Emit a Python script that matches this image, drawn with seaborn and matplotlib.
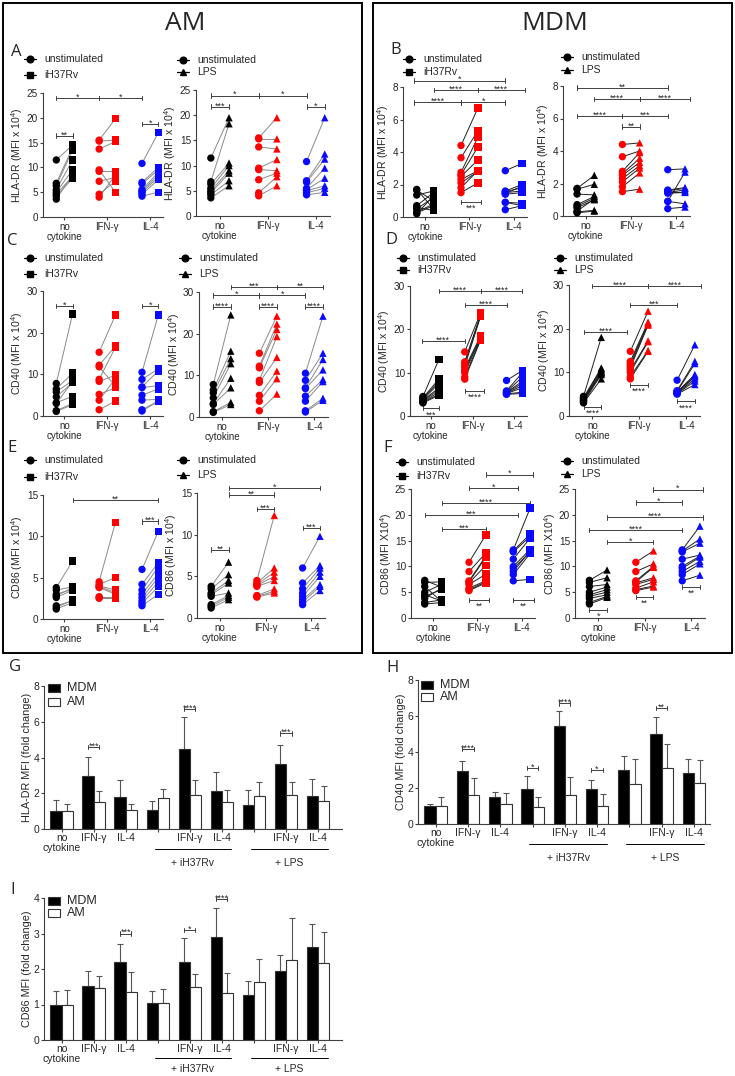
import numpy as np
import pandas as pd
import matplotlib
matplotlib.use('Agg')
import matplotlib.pyplot as plt
from matplotlib.lines import Line2D
from matplotlib.patches import Rectangle
import seaborn as sns

sns.set_style('ticks')
plt.rcParams['font.family'] = ['Liberation Sans', 'DejaVu Sans']
plt.rcParams['mathtext.default'] = 'regular'

# ---------------- data: paired donor values (MFI x 10^4) ----------------
# each list holds [no cytokine, IFN-g, IL-4]
cytokines = ['no\ncytokine', 'IFN-γ', 'IL-4']

hla_am_unstim = [[11.5, 6.8, 6.3, 5.5, 5.0, 4.6, 4.2, 3.6],
                 [15.5, 15.3, 13.7, 9.5, 9.2, 7.2, 4.6, 4.0],
                 [10.8, 7.0, 6.7, 5.5, 5.2, 5.0, 4.6, 4.2]]
hla_am_h37 = [[14.5, 14.0, 13.5, 11.5, 9.5, 8.2, 7.8, 8.5],
              [19.8, 15.5, 15.2, 5.0, 9.2, 8.0, 7.2, 8.5],
              [17.0, 10.0, 9.5, 9.0, 8.5, 8.0, 7.5, 5.0]]
hla_am_lps = [[19.5, 18.3, 10.5, 10.0, 9.0, 8.5, 7.0, 6.0],
              [19.5, 15.3, 13.3, 11.2, 9.0, 8.5, 7.8, 6.0],
              [19.5, 12.3, 11.3, 9.5, 7.5, 6.0, 5.5, 4.7]]

hla_mdm_unstim = [[1.7, 1.65, 1.35, 0.7, 0.6, 0.5, 0.3, 0.25, 0.2],
                  [4.4, 3.65, 2.75, 2.6, 2.5, 2.3, 2.1, 1.8, 1.5],
                  [2.85, 1.6, 1.55, 1.5, 1.45, 0.9, 0.9, 0.45, 1.4]]
hla_mdm_h37 = [[0.5, 1.0, 1.6, 1.5, 0.4, 1.2, 0.8, 0.7, 1.3],
               [6.7, 5.3, 4.9, 4.3, 3.5, 2.85, 2.8, 2.85, 2.1],
               [3.3, 2.0, 1.8, 1.6, 1.9, 0.85, 0.7, 0.7, 1.5]]
hla_mdm_lps = [[2.5, 1.95, 1.3, 1.2, 1.1, 1.0, 1.05, 0.35, 0.3],
               [4.5, 4.0, 3.9, 3.55, 3.3, 3.1, 2.95, 2.65, 1.65],
               [2.9, 1.75, 1.7, 1.5, 1.6, 2.7, 0.75, 0.55, 1.45]]

cd40_am_unstim = [[7.8, 6.5, 5.8, 4.6, 3.2, 3.0, 1.3, 1.1],
                  [15.3, 12.2, 11.8, 8.8, 8.3, 5.2, 3.8, 1.5],
                  [10.5, 8.8, 7.0, 6.8, 5.0, 3.8, 1.5, 1.2]]
cd40_am_h37 = [[24.5, 10.3, 8.5, 8.0, 4.7, 8.3, 3.0, 2.7],
               [24.2, 16.8, 7.2, 16.5, 9.8, 6.8, 9.0, 3.6],
               [24.2, 11.3, 10.8, 7.3, 6.5, 4.0, 3.6, 3.5]]
cd40_am_lps = [[24.5, 15.8, 14.0, 12.8, 9.3, 7.0, 3.5, 3.0],
               [24.2, 22.3, 21.0, 19.3, 14.3, 11.0, 9.2, 5.5],
               [24.2, 15.3, 13.8, 11.3, 9.0, 8.5, 4.5, 4.0]]

cd40_mdm_unstim = [[4.5, 4.2, 4.0, 3.8, 3.6, 3.5, 3.3, 3.2, 3.0],
                   [14.8, 12.5, 12.0, 11.5, 11.0, 10.5, 10.0, 9.0, 8.5],
                   [8.2, 5.8, 5.6, 5.5, 5.4, 5.3, 5.2, 5.1, 5.0]]
cd40_mdm_h37 = [[13.0, 8.5, 8.0, 7.5, 6.5, 6.0, 5.5, 5.0, 4.8],
                [23.8, 23.5, 23.2, 23.0, 18.5, 18.2, 18.0, 17.8, 17.5],
                [10.5, 10.0, 9.0, 8.0, 7.5, 7.0, 6.5, 5.5, 5.2]]
cd40_mdm_lps = [[18.0, 11.0, 10.8, 10.5, 10.2, 10.0, 9.8, 9.5, 8.5],
                [24.0, 21.5, 21.2, 21.0, 20.8, 17.2, 17.0, 15.0, 14.8],
                [16.3, 12.5, 12.0, 9.5, 9.2, 9.0, 8.5, 8.0, 7.2]]

cd86_am_unstim = [[3.8, 3.5, 3.0, 2.8, 2.6, 1.6, 1.4, 1.2],
                  [4.5, 4.2, 4.0, 3.9, 3.8, 2.7, 2.6, 2.5],
                  [6.0, 4.2, 3.5, 3.0, 2.6, 2.2, 1.9, 1.6]]
cd86_am_h37 = [[7.0, 3.9, 3.6, 3.8, 3.5, 2.2, 2.3, 2.0],
               [11.7, 5.0, 3.5, 3.2, 3.0, 2.7, 2.6, 2.5],
               [10.6, 6.8, 6.3, 5.5, 5.0, 4.5, 3.9, 3.0]]
cd86_am_lps = [[6.7, 5.2, 4.5, 4.2, 3.0, 2.7, 2.5, 2.2],
               [12.3, 6.0, 5.5, 5.0, 4.5, 3.5, 3.2, 3.0],
               [9.8, 6.3, 6.0, 5.5, 5.0, 4.0, 3.8, 3.3]]

cd86_mdm_unstim = [[7.3, 6.9, 6.1, 5.0, 4.5, 4.2, 3.8, 3.0, 2.7],
                   [10.8, 9.0, 7.2, 7.0, 6.8, 6.5, 5.8, 5.5, 5.3],
                   [13.2, 13.0, 12.8, 11.4, 10.0, 9.6, 9.0, 8.4, 7.2]]
cd86_mdm_h37 = [[6.0, 7.0, 3.2, 6.5, 3.3, 5.5, 5.8, 3.5, 3.0],
                [16.1, 12.6, 12.0, 11.8, 10.2, 8.5, 7.2, 7.0, 6.8],
                [21.3, 16.3, 15.8, 15.5, 13.3, 12.8, 13.0, 12.5, 7.5]]
cd86_mdm_lps = [[9.3, 7.8, 6.5, 6.0, 5.5, 5.0, 4.5, 4.2, 4.0],
                [13.0, 10.5, 10.0, 9.8, 7.8, 7.5, 7.0, 6.2, 6.0],
                [17.8, 15.3, 14.5, 12.2, 12.0, 11.8, 11.0, 10.5, 8.3]]

# significance brackets: (x1, x2, y, label, below)
# x: -0.19/0.19 = no cytokine unstim/stim, 0.81/1.19 = IFN-g, 1.81/2.19 = IL-4
sig_a1 = [(-0.19, 0.81, 24, '*', 0), (0.81, 1.81, 24, '*', 0),
          (-0.19, 0.19, 16.4, '**', 0), (1.81, 2.19, 18.8, '*', 0)]
sig_a2 = [(-0.19, 0.81, 23.9, '*', 0), (0.81, 1.81, 23.9, '*', 0),
          (-0.19, 0.19, 21.7, '***', 0), (1.81, 2.19, 21.7, '*', 0)]
sig_b1 = [(-0.25, 1.81, 8.4, '*', 0), (0.19, 1.19, 7.8, '****', 0),
          (1.19, 2.25, 7.8, '****', 0), (-0.25, 0.81, 7.05, '****', 0),
          (0.81, 1.81, 7.05, '*', 0), (0.81, 1.25, 0.93, '***', 1)]
sig_b2 = [(-0.19, 1.81, 7.9, '**', 0), (0.19, 1.19, 7.2, '****', 0),
          (1.19, 2.3, 7.2, '****', 0), (-0.19, 0.81, 6.15, '****', 0),
          (0.81, 1.81, 6.15, '***', 0), (0.81, 1.19, 5.5, '**', 0)]
sig_c1 = [(-0.19, 0.19, 26.4, '*', 0), (1.81, 2.19, 26.4, '*', 0)]
sig_c2 = [(0.19, 1.19, 31.2, '***', 0), (1.19, 2.19, 31.2, '**', 0),
          (-0.19, 0.81, 29.2, '*', 0), (0.81, 1.81, 29.2, '*', 0),
          (-0.19, 0.19, 26.5, '****', 0), (0.81, 1.19, 26.5, '****', 0),
          (1.81, 2.19, 26.5, '****', 0)]
sig_d1 = [(0.19, 1.19, 28.8, '****', 0), (1.19, 2.19, 28.8, '****', 0),
          (0.81, 1.81, 25.6, '****', 0), (-0.22, 0.81, 17.3, '****', 0),
          (0.81, 1.27, 5.8, '****', 1), (-0.19, 0.19, 1.8, '***', 1)]
sig_d2 = [(0.0, 1.19, 29.8, '****', 0), (1.19, 2.33, 29.8, '****', 0),
          (0.81, 1.81, 25.4, '***', 0), (-0.19, 0.75, 19.3, '****', 0),
          (0.81, 1.19, 7.1, '****', 1), (-0.19, 0.19, 2.1, '****', 1),
          (1.81, 2.19, 3.4, '****', 1)]
sig_e1 = [(0.19, 2.19, 14.4, '**', 0), (1.81, 2.19, 11.8, '***', 0)]
sig_e2 = [(0.19, 2.19, 15.6, '*', 0), (0.19, 1.19, 14.8, '**', 0),
          (0.81, 1.19, 13.1, '***', 0), (-0.19, 0.19, 8.2, '**', 0),
          (1.81, 2.19, 10.8, '***', 0)]
sig_f1 = [(1.19, 2.25, 27.8, '*', 0), (0.81, 1.92, 25.2, '*', 0),
          (0.19, 2.19, 22.3, '****', 0), (-0.19, 1.92, 20.0, '***', 0),
          (0.19, 1.19, 17.3, '***', 0), (0.81, 1.27, 3.5, '**', 1),
          (1.81, 2.27, 3.5, '**', 1)]
sig_f2 = [(1.19, 2.25, 24.9, '*', 0), (0.81, 1.81, 22.4, '*', 0),
          (0.19, 2.25, 19.5, '****', 0), (-0.19, 1.81, 17.0, '****', 0),
          (0.19, 1.19, 14.7, '*', 0), (-0.19, 0.19, 1.6, '*', 1),
          (0.81, 1.19, 4.1, '**', 1), (1.81, 2.19, 6.0, '**', 1)]

# ---------------- data: fold change bars (mean, mean+SD) ----------------
bar_groups = ['no\ncytokine', 'IFN-γ', 'IL-4', '', 'IFN-γ', 'IL-4', '', 'IFN-γ', 'IL-4']

hla_fc_mdm = [1.0, 2.95, 1.8, 1.05, 4.5, 2.1, 1.35, 3.65, 1.85]
hla_fc_mdm_top = [1.65, 4.05, 2.75, 1.55, 6.25, 3.2, 2.2, 4.68, 2.78]
hla_fc_am = [1.0, 1.5, 1.05, 1.72, 1.88, 1.5, 1.82, 1.88, 1.58]
hla_fc_am_top = [1.4, 2.15, 1.38, 2.23, 2.72, 2.18, 2.65, 2.62, 2.38]
hla_fc_sig = [(1, 4.6, '***'), (4, 6.7, '****'), (7, 5.35, '***')]

cd40_fc_mdm = [1.0, 2.95, 1.5, 1.95, 5.45, 1.93, 3.0, 5.0, 2.82]
cd40_fc_mdm_top = [1.12, 3.48, 1.8, 2.65, 6.3, 2.43, 3.78, 5.92, 3.6]
cd40_fc_am = [1.0, 1.6, 1.1, 0.95, 1.6, 1.02, 2.22, 3.1, 2.3]
cd40_fc_am_top = [1.52, 2.55, 1.75, 1.48, 2.6, 1.65, 3.6, 4.45, 3.55]
cd40_fc_sig = [(1, 4.17, '****'), (3, 3.1, '*'), (4, 6.7, '****'),
               (5, 3.0, '*'), (7, 6.45, '**')]

cd86_fc_mdm = [1.0, 1.53, 2.2, 1.04, 2.2, 2.9, 1.28, 1.93, 2.63]
cd86_fc_mdm_top = [1.38, 1.95, 2.7, 1.38, 2.87, 3.73, 1.67, 2.4, 3.28]
cd86_fc_am = [1.0, 1.47, 1.36, 1.04, 1.5, 1.31, 1.64, 2.26, 2.17]
cd86_fc_am_top = [1.4, 1.8, 1.92, 1.45, 1.86, 1.89, 2.27, 3.43, 3.03]
cd86_fc_sig = [(2, 3.0, '***'), (4, 3.1, '*'), (5, 3.98, '****')]


W, H = 735, 1076
fig = plt.figure(figsize=(W / 100, H / 100), dpi=100)
AX_COL = '#404040'
OFF = 0.19
palette = {'0': 'black', '1': '#ff0000', '2': '#0a0aff'}


def px_axes(left, top, right, bottom):
    return fig.add_axes([left / W, 1 - bottom / H, (right - left) / W, (bottom - top) / H])


def style_axes(ax, ymax, yticks, ylabel, fs_tick=7.2, fs_lab=7.6):
    ax.set_ylim(0, ymax)
    ax.set_yticks(yticks)
    for s in ['top', 'right']:
        ax.spines[s].set_visible(False)
    for s in ['left', 'bottom']:
        ax.spines[s].set_color(AX_COL)
        ax.spines[s].set_linewidth(0.8)
    ax.tick_params(axis='both', length=2.5, width=0.8, color=AX_COL,
                   labelsize=fs_tick, pad=1)
    ax.tick_params(axis='x', labelsize=7)
    ax.set_ylabel(ylabel, fontsize=fs_lab, labelpad=1)
    ax.set_xlabel('')


def bracket(ax, x1, x2, y, label, below=False, fs=6.5):
    # cap half height of ~2 px in data units
    h = 2.2 / ax.bbox.height * ax.get_ylim()[1]
    kw = dict(color=AX_COL, lw=0.7, clip_on=False)
    ax.plot([x1, x2], [y, y], **kw)
    ax.plot([x1, x1], [y - h, y + h], **kw)
    ax.plot([x2, x2], [y - h, y + h], **kw)
    if below:
        ax.annotate(label, ((x1 + x2) / 2, y), xytext=(0, -1.5), textcoords='offset points',
                    ha='center', va='top', fontsize=fs, annotation_clip=False)
    else:
        ax.annotate(label, ((x1 + x2) / 2, y), xytext=(0, -1.2), textcoords='offset points',
                    ha='center', va='baseline', fontsize=fs, annotation_clip=False)


def paired_panel(ax, unstim, stim, marker, line_col, ymax, yticks, ylabel, sigs):
    rows = []
    for ci in range(3):
        for di, (u, s) in enumerate(zip(unstim[ci], stim[ci])):
            rows.append(dict(x=ci - OFF, y=u, cyt=str(ci), kind='unstim', donor=di))
            rows.append(dict(x=ci + OFF, y=s, cyt=str(ci), kind='stim', donor=di))
    df = pd.DataFrame(rows)
    for _, g in df.groupby(['cyt', 'donor']):
        ax.plot(g['x'], g['y'], color=line_col, lw=0.7, zorder=1)
    sns.scatterplot(data=df, x='x', y='y', hue='cyt', style='kind', palette=palette,
                    markers={'unstim': 'o', 'stim': marker}, style_order=['unstim', 'stim'],
                    s=28, linewidth=0, legend=False, ax=ax, zorder=3, clip_on=False)
    ax.set_xlim(-0.5, 2.3)
    ax.set_xticks([0, 1, 2])
    ax.set_xticklabels(cytokines, linespacing=1.0)
    style_axes(ax, ymax, yticks, ylabel)
    for x1, x2, y, lab, below in sigs:
        bracket(ax, x1, x2, y, lab, below)


def pair_legend(x, y1, y2, stim_label, marker):
    for y, lab, m in [(y1, 'unstimulated', 'o'), (y2, stim_label, marker)]:
        fy = 1 - y / H
        fig.add_artist(Line2D([(x - 6) / W, (x + 6) / W], [fy, fy], color='black', lw=0.9))
        fig.add_artist(Line2D([x / W], [fy], color='black', marker=m, markersize=4.8, lw=0))
        fig.text((x + 14) / W, fy, lab, fontsize=7.5, va='center', ha='left')


def bar_panel(ax, mdm, mdm_top, am, am_top, ymax, yticks, ylabel, sigs, xr, lab_y=(-0.14, -0.235)):
    df = pd.DataFrame({'grp': [f'g{i}' for i in range(9)] * 2,
                       'val': mdm + am,
                       'cell': ['MDM'] * 9 + ['AM'] * 9})
    order = [f'g{i}' for i in range(9)]
    sns.barplot(data=df, x='grp', y='val', hue='cell', order=order, hue_order=['MDM', 'AM'],
                palette={'MDM': 'black', 'AM': 'white'}, edgecolor='#333333', linewidth=0.8,
                errorbar=None, width=0.7, legend=False, ax=ax, zorder=2)
    xs = np.arange(9)
    err_m = np.array(mdm_top) - np.array(mdm)
    err_a = np.array(am_top) - np.array(am)
    ax.errorbar(xs - 0.175, mdm, yerr=[np.zeros(9), err_m], fmt='none', ecolor='#555555',
                elinewidth=0.8, capsize=2.5, capthick=0.8, zorder=1)
    ax.errorbar(xs + 0.175, am, yerr=[np.zeros(9), err_a], fmt='none', ecolor='#555555',
                elinewidth=0.8, capsize=2.5, capthick=0.8, zorder=1)
    ax.set_xlim(-0.55, xr)
    ax.set_xticks(xs)
    ax.set_xticklabels(bar_groups, linespacing=1.0)
    style_axes(ax, ymax, yticks, ylabel, fs_tick=7.5, fs_lab=7.8)
    ax.tick_params(axis='x', length=2, labelsize=7.5)
    for g, y, lab in sigs:
        bracket(ax, g - 0.175, g + 0.175, y, lab, fs=6.5)
    tr = ax.get_xaxis_transform()
    for x1, x2, lab in [(2.9, 5.3, '+ iH37Rv'), (5.9, 8.3, '+ LPS')]:
        ax.plot([x1, x2], [lab_y[0]] * 2, color='black', lw=0.7, transform=tr, clip_on=False)
        ax.text((x1 + x2) / 2, lab_y[1], lab, transform=tr, ha='center', va='center', fontsize=7.5)


def bar_legend(x, y1, y2):
    for y, lab, fc in [(y1, 'MDM', 'black'), (y2, 'AM', 'white')]:
        fig.add_artist(Rectangle((x / W, 1 - (y + 4) / H), 12 / W, 8 / H,
                                 facecolor=fc, edgecolor='#333333', lw=0.8))
        fig.text((x + 19) / W, 1 - y / H, lab, fontsize=9, va='center', ha='left')


# ---------------- frames and titles ----------------
fig.add_artist(Rectangle((3 / W, 1 - 653 / H), 359 / W, 650 / H, fill=False,
                         edgecolor='black', lw=1.4))
fig.add_artist(Rectangle((373 / W, 1 - 653 / H), 359 / W, 650 / H, fill=False,
                         edgecolor='black', lw=1.4))
fig.text(185 / W, 1 - 24 / H, 'AM', fontsize=19, ha='center', va='center', family='Open Sans')
fig.text(555 / W, 1 - 24 / H, 'MDM', fontsize=19, ha='center', va='center', family='Open Sans')

for lab, x, y in [('A', 16, 52), ('B', 396, 50), ('C', 12, 241), ('D', 391, 240),
                  ('E', 12, 448), ('F', 388, 448), ('G', 15, 667), ('H', 393, 668),
                  ('I', 13, 890)]:
    fig.text(x / W, 1 - y / H, lab, fontsize=12, ha='center', va='center', family='Open Sans')

# ---------------- paired panels ----------------
HLA = 'HLA-DR (MFI x 10$^4$)'
CD40 = 'CD40 (MFI x 10$^4$)'
CD86 = 'CD86 (MFI x 10$^4$)'
AM_LINE, MDM_LINE = '#8a8a8a', '#202020'

paired_panel(px_axes(43, 93, 163, 217), hla_am_unstim, hla_am_h37, 's', AM_LINE,
             25, [0, 5, 10, 15, 20, 25], HLA, sig_a1)
paired_panel(px_axes(196, 90, 330, 216), hla_am_unstim, hla_am_lps, '^', AM_LINE,
             25, [0, 5, 10, 15, 20, 25], HLA, sig_a2)
paired_panel(px_axes(403, 87, 527, 217), hla_mdm_unstim, hla_mdm_h37, 's', MDM_LINE,
             8, [0, 2, 4, 6, 8], HLA, sig_b1)
paired_panel(px_axes(563, 86, 690, 216), hla_mdm_unstim, hla_mdm_lps, '^', MDM_LINE,
             8, [0, 2, 4, 6, 8], HLA, sig_b2)

paired_panel(px_axes(43, 291, 163, 416), cd40_am_unstim, cd40_am_h37, 's', AM_LINE,
             30, [0, 10, 20, 30], CD40, sig_c1)
paired_panel(px_axes(199, 292, 328, 417), cd40_am_unstim, cd40_am_lps, '^', AM_LINE,
             30, [0, 10, 20, 30], CD40, sig_c2)
paired_panel(px_axes(410, 286, 527, 416), cd40_mdm_unstim, cd40_mdm_h37, 's', MDM_LINE,
             30, [0, 10, 20, 30], CD40, sig_d1)
paired_panel(px_axes(569, 285, 700, 416), cd40_mdm_unstim, cd40_mdm_lps, '^', MDM_LINE,
             30, [0, 10, 20, 30], CD40, sig_d2)

paired_panel(px_axes(43, 495, 163, 619), cd86_am_unstim, cd86_am_h37, 's', AM_LINE,
             15, [0, 5, 10, 15], CD86, sig_e1)
paired_panel(px_axes(197, 493, 325, 618), cd86_am_unstim, cd86_am_lps, '^', AM_LINE,
             15, [0, 5, 10, 15], CD86, sig_e2)
paired_panel(px_axes(411, 489, 535, 618), cd86_mdm_unstim, cd86_mdm_h37, 's', MDM_LINE,
             25, [0, 5, 10, 15, 20, 25], 'CD86 (MFI X10$^4$)', sig_f1)
paired_panel(px_axes(575, 489, 705, 618), cd86_mdm_unstim, cd86_mdm_lps, '^', MDM_LINE,
             25, [0, 5, 10, 15, 20, 25], 'CD86 (MFI X10$^4$)', sig_f2)

pair_legend(30, 59, 75, 'iH37Rv', 's')
pair_legend(183, 60, 72, 'LPS', '^')
pair_legend(409, 59, 72, 'iH37Rv', 's')
pair_legend(567, 57, 70, 'LPS', '^')
pair_legend(30, 258, 274, 'iH37Rv', 's')
pair_legend(185, 258, 274, 'LPS', '^')
pair_legend(403, 258, 270, 'iH37Rv', 's')
pair_legend(560, 258, 270, 'LPS', '^')
pair_legend(30, 460, 477, 'iH37Rv', 's')
pair_legend(183, 460, 475, 'LPS', '^')
pair_legend(402, 462, 476, 'iH37Rv', 's')
pair_legend(567, 461, 474, 'LPS', '^')

# ---------------- fold change bar panels ----------------
bar_panel(px_axes(44, 686, 342, 829), hla_fc_mdm, hla_fc_mdm_top, hla_fc_am, hla_fc_am_top,
          8, [0, 2, 4, 6, 8], 'HLA-DR MFI (fold change)', hla_fc_sig, 8.75)
bar_panel(px_axes(418, 680, 710, 824), cd40_fc_mdm, cd40_fc_mdm_top, cd40_fc_am, cd40_fc_am_top,
          8, [0, 2, 4, 6, 8], 'CD40 MFI (fold change)', cd40_fc_sig, 8.5)
bar_panel(px_axes(44, 898, 342, 1040), cd86_fc_mdm, cd86_fc_mdm_top, cd86_fc_am, cd86_fc_am_top,
          4, [0, 1, 2, 3, 4], 'CD86 MFI (fold change)', cd86_fc_sig, 8.75, lab_y=(-0.13, -0.205))

bar_legend(48, 688, 702)
bar_legend(421, 685, 697)
bar_legend(48, 901, 913)

fig.savefig('out.png', dpi=100)
